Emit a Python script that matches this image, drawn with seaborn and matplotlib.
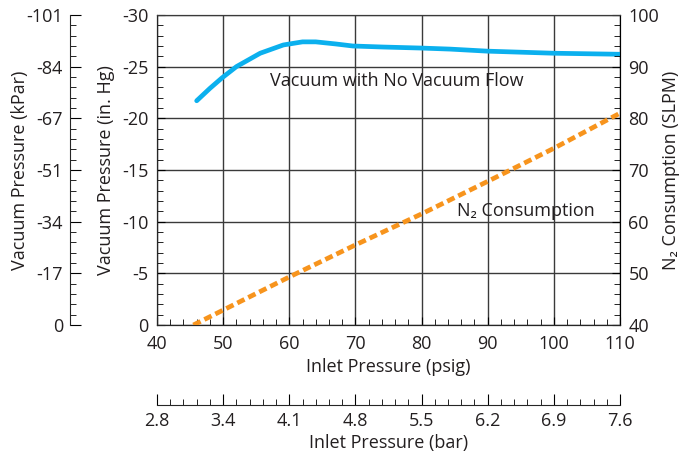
import matplotlib
matplotlib.use("Agg")
import matplotlib.pyplot as plt
from matplotlib.ticker import MultipleLocator, FixedLocator, FixedFormatter
import seaborn as sns
import pandas as pd

# vacuum curve (in. Hg) vs inlet pressure (psig)
vac_psig = [46, 48, 49.8, 52, 55.6, 59.1, 62, 64, 67, 69.6, 74.2, 80, 84.3, 90, 100, 110]
vac_inhg = [-21.7, -22.9, -23.9, -25.0, -26.3, -27.1, -27.4, -27.4, -27.2, -27.0, -26.9, -26.8, -26.7, -26.5, -26.3, -26.2]

# N2 consumption (SLPM) vs inlet pressure (psig)
n2_psig = [45.5, 60, 70, 80, 90, 100, 110]
n2_slpm = [40, 49.3, 55.5, 61.5, 67.8, 74.2, 81]

inhg_ticks = [0, -5, -10, -15, -20, -25, -30]
kpa_labels = ["0", "-17", "-34", "-51", "-67", "-84", "-101"]
psig_ticks = [40, 50, 60, 70, 80, 90, 100, 110]
bar_labels = ["2.8", "3.4", "4.1", "4.8", "5.5", "6.2", "6.9", "7.6"]

sns.set_style("ticks")
plt.rcParams["font.family"] = ["Open Sans", "DejaVu Sans"]
plt.rcParams["font.size"] = 13
plt.rcParams["axes.unicode_minus"] = False
txt = "#231f20"
grid_c = "#3a3a3a"
fs = 13

fig = plt.figure(figsize=(6.83, 4.58), dpi=100)
ax = fig.add_axes([157 / 683, 133 / 458, 463 / 683, 310 / 458])

df_vac = pd.DataFrame({"psig": vac_psig, "inhg": vac_inhg})
sns.lineplot(data=df_vac, x="psig", y="inhg", ax=ax, color="#0bb0ee", lw=3.4, zorder=5)

ax.set_xlim(40, 110)
ax.set_ylim(0, -30)
ax.xaxis.set_major_locator(FixedLocator(psig_ticks))
ax.xaxis.set_minor_locator(MultipleLocator(2))
ax.yaxis.set_major_locator(FixedLocator(inhg_ticks))
ax.yaxis.set_minor_locator(MultipleLocator(1))
ax.grid(True, which="major", color=grid_c, lw=1)
ax.tick_params(which="both", direction="in", colors="black", labelcolor=txt, labelsize=fs)
ax.tick_params(which="major", length=6)
ax.tick_params(axis="y", which="major", pad=6)
ax.tick_params(axis="x", which="major", pad=7)
ax.tick_params(which="minor", length=4)
ax.set_xlabel("Inlet Pressure (psig)", color=txt, fontsize=fs, labelpad=4)
ax.set_ylabel("Vacuum Pressure (in. Hg)", color=txt, fontsize=fs, labelpad=5)
for s in ax.spines.values():
    s.set_color(grid_c)
ax.spines["left"].set_color("black")
ax.spines["bottom"].set_color("black")

ax.text(76.3, -23.6, "Vacuum with No Vacuum Flow", ha="center", va="center", color=txt, fontsize=fs)

# right axis: N2 consumption
ax2 = ax.twinx()
df_n2 = pd.DataFrame({"psig": n2_psig, "slpm": n2_slpm})
sns.lineplot(data=df_n2, x="psig", y="slpm", ax=ax2, color="#f7941d", lw=3.4, zorder=4)
ax2.lines[0].set_dashes([1.7, 0.9])
ax2.set_ylim(40, 100)
ax2.set_xlim(40, 110)
ax2.yaxis.set_major_locator(MultipleLocator(10))
ax2.yaxis.set_minor_locator(MultipleLocator(2))
ax2.tick_params(which="both", direction="in", colors="black", labelcolor=txt, labelsize=fs)
ax2.tick_params(which="major", length=6, pad=6)
ax2.tick_params(which="minor", length=4)
ax2.set_ylabel("N₂ Consumption (SLPM)", color=txt, fontsize=fs, labelpad=2)
ax2.spines["right"].set_color("black")
ax2.spines["top"].set_color(grid_c)
ax2.text(95.7, 62, "N₂ Consumption", ha="center", va="center", color=txt, fontsize=fs)

# outer left axis: kPa
ax3 = ax.twinx()
ax3.set_ylim(0, -30)
ax3.spines["left"].set_position(("axes", -87 / 463))
ax3.spines["left"].set_visible(True)
for k in ["right", "top", "bottom"]:
    ax3.spines[k].set_visible(False)
ax3.yaxis.set_ticks_position("left")
ax3.yaxis.set_label_position("left")
ax3.yaxis.set_major_locator(FixedLocator(inhg_ticks))
ax3.yaxis.set_major_formatter(FixedFormatter(kpa_labels))
ax3.yaxis.set_minor_locator(MultipleLocator(1))
ax3.tick_params(which="both", direction="in", colors="black", labelcolor=txt, labelsize=fs)
ax3.tick_params(which="major", length=8, pad=5)
ax3.tick_params(which="minor", length=4)
ax3.set_ylabel("Vacuum Pressure (kPar)", color=txt, fontsize=fs)
ax3.yaxis.set_label_coords(-0.276, 0.5)

# lower axis: bar
ax4 = ax.twiny()
ax4.set_xlim(40, 110)
ax4.spines["bottom"].set_position(("axes", -80 / 310))
ax4.spines["bottom"].set_visible(True)
for k in ["right", "top", "left"]:
    ax4.spines[k].set_visible(False)
ax4.xaxis.set_ticks_position("bottom")
ax4.xaxis.set_label_position("bottom")
ax4.xaxis.set_major_locator(FixedLocator(psig_ticks))
ax4.xaxis.set_major_formatter(FixedFormatter(bar_labels))
ax4.xaxis.set_minor_locator(MultipleLocator(2))
ax4.tick_params(which="both", direction="in", colors="black", labelcolor=txt, labelsize=fs)
ax4.tick_params(which="major", length=8, pad=5)
ax4.tick_params(which="minor", length=4)
ax4.set_xlabel("Inlet Pressure (bar)", color=txt, fontsize=fs, labelpad=3)

fig.savefig("out.png", dpi=100)
